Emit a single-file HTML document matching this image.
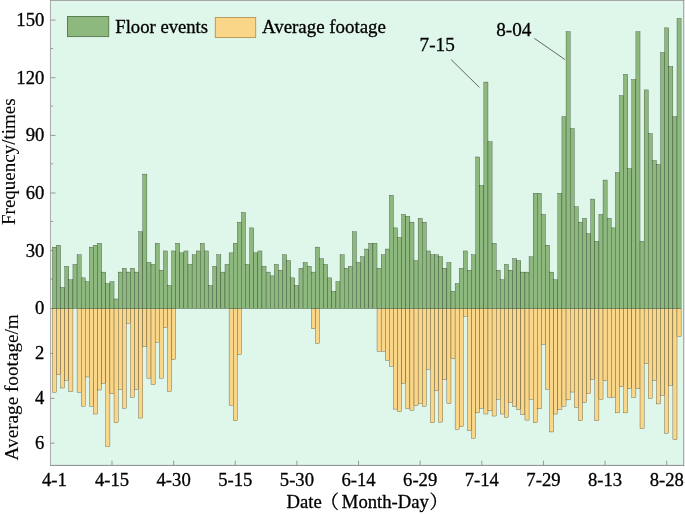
<!DOCTYPE html>
<html><head><meta charset="utf-8"><title>chart</title>
<style>html,body{margin:0;padding:0;background:#fff}</style></head>
<body>
<svg width="685" height="514" viewBox="0 0 685 514" style="display:block;font-family:'Liberation Serif','Noto Serif CJK SC',serif;font-size:18.67px"><style>text{stroke:#000;stroke-width:0.3px;fill:#000}</style>
<rect x="0" y="0" width="685" height="514" fill="#fff"/>
<rect x="50.5" y="0" width="633.5" height="465.4" fill="#dff6ea"/>
<g stroke="#8a8a8a" stroke-width="0.9" fill="none"><line x1="50.0" y1="0.5" x2="684.2" y2="0.5" stroke="#a6a6a6" stroke-width="1"/><line x1="50.45" y1="0" x2="50.45" y2="465.9" stroke="#959595" stroke-width="0.8"/><line x1="683.75" y1="0" x2="683.75" y2="465.9"/><line x1="50.0" y1="465.4" x2="684.2" y2="465.4" stroke-width="1"/></g>
<g stroke="#858a85" stroke-width="0.85">
<line x1="50.5" y1="308.60" x2="55.5" y2="308.60"/>
<line x1="50.5" y1="250.66" x2="55.5" y2="250.66"/>
<line x1="50.5" y1="193.01" x2="55.5" y2="193.01"/>
<line x1="50.5" y1="135.37" x2="55.5" y2="135.37"/>
<line x1="50.5" y1="77.72" x2="55.5" y2="77.72"/>
<line x1="50.5" y1="20.07" x2="55.5" y2="20.07"/>
<line x1="50.5" y1="279.08" x2="53.0" y2="279.08"/>
<line x1="50.5" y1="221.43" x2="53.0" y2="221.43"/>
<line x1="50.5" y1="163.79" x2="53.0" y2="163.79"/>
<line x1="50.5" y1="106.14" x2="53.0" y2="106.14"/>
<line x1="50.5" y1="48.50" x2="53.0" y2="48.50"/>
<line x1="50.5" y1="353.46" x2="54.5" y2="353.46"/>
<line x1="50.5" y1="398.32" x2="54.5" y2="398.32"/>
<line x1="50.5" y1="443.18" x2="54.5" y2="443.18"/>
<line x1="111.98" y1="465.4" x2="111.98" y2="460.7"/>
<line x1="173.62" y1="465.4" x2="173.62" y2="460.7"/>
<line x1="235.26" y1="465.4" x2="235.26" y2="460.7"/>
<line x1="296.90" y1="465.4" x2="296.90" y2="460.7"/>
<line x1="358.54" y1="465.4" x2="358.54" y2="460.7"/>
<line x1="420.17" y1="465.4" x2="420.17" y2="460.7"/>
<line x1="481.81" y1="465.4" x2="481.81" y2="460.7"/>
<line x1="543.45" y1="465.4" x2="543.45" y2="460.7"/>
<line x1="605.09" y1="465.4" x2="605.09" y2="460.7"/>
<line x1="666.73" y1="465.4" x2="666.73" y2="460.7"/>
</g>
<g fill="#fad688" stroke="#2a2418" stroke-width="0.3">
<rect x="52.40" y="308.6" width="4.109" height="83.66"/>
<rect x="56.51" y="308.6" width="4.109" height="66.17"/>
<rect x="60.62" y="308.6" width="4.109" height="79.40"/>
<rect x="64.73" y="308.6" width="4.109" height="71.55"/>
<rect x="68.84" y="308.6" width="4.109" height="82.77"/>
<rect x="77.06" y="308.6" width="4.109" height="83.66"/>
<rect x="81.16" y="308.6" width="4.109" height="97.57"/>
<rect x="85.27" y="308.6" width="4.109" height="68.41"/>
<rect x="89.38" y="308.6" width="4.109" height="97.57"/>
<rect x="93.49" y="308.6" width="4.109" height="105.42"/>
<rect x="97.60" y="308.6" width="4.109" height="81.42"/>
<rect x="101.71" y="308.6" width="4.109" height="74.69"/>
<rect x="105.82" y="308.6" width="4.109" height="137.94"/>
<rect x="109.93" y="308.6" width="4.109" height="85.23"/>
<rect x="114.04" y="308.6" width="4.109" height="114.17"/>
<rect x="118.15" y="308.6" width="4.109" height="80.75"/>
<rect x="122.26" y="308.6" width="4.109" height="99.59"/>
<rect x="126.37" y="308.6" width="4.109" height="14.58"/>
<rect x="130.47" y="308.6" width="4.109" height="88.60"/>
<rect x="134.58" y="308.6" width="4.109" height="80.75"/>
<rect x="138.69" y="308.6" width="4.109" height="109.46"/>
<rect x="142.80" y="308.6" width="4.109" height="38.13"/>
<rect x="146.91" y="308.6" width="4.109" height="69.53"/>
<rect x="151.02" y="308.6" width="4.109" height="76.04"/>
<rect x="155.13" y="308.6" width="4.109" height="33.64"/>
<rect x="159.24" y="308.6" width="4.109" height="69.53"/>
<rect x="163.35" y="308.6" width="4.109" height="18.84"/>
<rect x="167.46" y="308.6" width="4.109" height="82.77"/>
<rect x="171.57" y="308.6" width="4.109" height="50.92"/>
<rect x="229.10" y="308.6" width="4.109" height="96.67"/>
<rect x="233.20" y="308.6" width="4.109" height="112.15"/>
<rect x="237.31" y="308.6" width="4.109" height="45.98"/>
<rect x="311.28" y="308.6" width="4.109" height="20.19"/>
<rect x="315.39" y="308.6" width="4.109" height="34.77"/>
<rect x="377.03" y="308.6" width="4.109" height="42.62"/>
<rect x="381.14" y="308.6" width="4.109" height="42.62"/>
<rect x="385.25" y="308.6" width="4.109" height="51.59"/>
<rect x="389.35" y="308.6" width="4.109" height="57.65"/>
<rect x="393.46" y="308.6" width="4.109" height="100.49"/>
<rect x="397.57" y="308.6" width="4.109" height="103.18"/>
<rect x="401.68" y="308.6" width="4.109" height="74.69"/>
<rect x="405.79" y="308.6" width="4.109" height="99.59"/>
<rect x="409.90" y="308.6" width="4.109" height="101.61"/>
<rect x="414.01" y="308.6" width="4.109" height="96.90"/>
<rect x="418.12" y="308.6" width="4.109" height="94.88"/>
<rect x="422.23" y="308.6" width="4.109" height="97.57"/>
<rect x="426.34" y="308.6" width="4.109" height="60.56"/>
<rect x="430.45" y="308.6" width="4.109" height="114.17"/>
<rect x="434.56" y="308.6" width="4.109" height="82.09"/>
<rect x="438.66" y="308.6" width="4.109" height="113.50"/>
<rect x="442.77" y="308.6" width="4.109" height="70.88"/>
<rect x="446.88" y="308.6" width="4.109" height="94.88"/>
<rect x="450.99" y="308.6" width="4.109" height="50.02"/>
<rect x="455.10" y="308.6" width="4.109" height="120.67"/>
<rect x="459.21" y="308.6" width="4.109" height="118.21"/>
<rect x="463.32" y="308.6" width="4.109" height="7.85"/>
<rect x="467.43" y="308.6" width="4.109" height="122.02"/>
<rect x="471.54" y="308.6" width="4.109" height="129.65"/>
<rect x="475.65" y="308.6" width="4.109" height="104.30"/>
<rect x="479.76" y="308.6" width="4.109" height="99.59"/>
<rect x="483.87" y="308.6" width="4.109" height="105.42"/>
<rect x="487.98" y="308.6" width="4.109" height="102.28"/>
<rect x="492.08" y="308.6" width="4.109" height="107.44"/>
<rect x="496.19" y="308.6" width="4.109" height="90.62"/>
<rect x="500.30" y="308.6" width="4.109" height="105.42"/>
<rect x="504.41" y="308.6" width="4.109" height="108.79"/>
<rect x="508.52" y="308.6" width="4.109" height="93.98"/>
<rect x="512.63" y="308.6" width="4.109" height="98.24"/>
<rect x="516.74" y="308.6" width="4.109" height="100.94"/>
<rect x="520.85" y="308.6" width="4.109" height="106.09"/>
<rect x="524.96" y="308.6" width="4.109" height="111.48"/>
<rect x="529.07" y="308.6" width="4.109" height="90.62"/>
<rect x="533.18" y="308.6" width="4.109" height="114.17"/>
<rect x="537.29" y="308.6" width="4.109" height="100.26"/>
<rect x="541.39" y="308.6" width="4.109" height="35.89"/>
<rect x="545.50" y="308.6" width="4.109" height="80.75"/>
<rect x="549.61" y="308.6" width="4.109" height="123.36"/>
<rect x="553.72" y="308.6" width="4.109" height="105.42"/>
<rect x="557.83" y="308.6" width="4.109" height="100.94"/>
<rect x="561.94" y="308.6" width="4.109" height="97.57"/>
<rect x="566.05" y="308.6" width="4.109" height="91.29"/>
<rect x="570.16" y="308.6" width="4.109" height="83.44"/>
<rect x="574.27" y="308.6" width="4.109" height="98.92"/>
<rect x="578.38" y="308.6" width="4.109" height="112.15"/>
<rect x="582.49" y="308.6" width="4.109" height="93.98"/>
<rect x="586.60" y="308.6" width="4.109" height="85.23"/>
<rect x="590.71" y="308.6" width="4.109" height="70.88"/>
<rect x="594.81" y="308.6" width="4.109" height="112.15"/>
<rect x="598.92" y="308.6" width="4.109" height="90.62"/>
<rect x="603.03" y="308.6" width="4.109" height="71.78"/>
<rect x="607.14" y="308.6" width="4.109" height="88.60"/>
<rect x="611.25" y="308.6" width="4.109" height="88.60"/>
<rect x="615.36" y="308.6" width="4.109" height="104.30"/>
<rect x="619.47" y="308.6" width="4.109" height="78.06"/>
<rect x="623.58" y="308.6" width="4.109" height="104.30"/>
<rect x="627.69" y="308.6" width="4.109" height="80.08"/>
<rect x="631.80" y="308.6" width="4.109" height="88.60"/>
<rect x="635.91" y="308.6" width="4.109" height="80.08"/>
<rect x="640.02" y="308.6" width="4.109" height="120.00"/>
<rect x="644.12" y="308.6" width="4.109" height="54.95"/>
<rect x="648.23" y="308.6" width="4.109" height="89.72"/>
<rect x="652.34" y="308.6" width="4.109" height="71.78"/>
<rect x="656.45" y="308.6" width="4.109" height="95.33"/>
<rect x="660.56" y="308.6" width="4.109" height="86.58"/>
<rect x="664.67" y="308.6" width="4.109" height="124.71"/>
<rect x="668.78" y="308.6" width="4.109" height="76.71"/>
<rect x="672.89" y="308.6" width="4.109" height="130.99"/>
<rect x="677.00" y="308.6" width="4.109" height="27.81"/>
</g>
<g fill="#8db87e" stroke="#1c2a18" stroke-width="0.3">
<rect x="52.40" y="247.11" width="4.109" height="61.49"/>
<rect x="56.51" y="245.19" width="4.109" height="63.41"/>
<rect x="60.62" y="287.46" width="4.109" height="21.14"/>
<rect x="64.73" y="266.33" width="4.109" height="42.27"/>
<rect x="68.84" y="279.78" width="4.109" height="28.82"/>
<rect x="72.95" y="264.41" width="4.109" height="44.19"/>
<rect x="77.06" y="254.80" width="4.109" height="53.80"/>
<rect x="81.16" y="277.86" width="4.109" height="30.74"/>
<rect x="85.27" y="281.70" width="4.109" height="26.90"/>
<rect x="89.38" y="247.11" width="4.109" height="61.49"/>
<rect x="93.49" y="245.19" width="4.109" height="63.41"/>
<rect x="97.60" y="243.27" width="4.109" height="65.33"/>
<rect x="101.71" y="272.09" width="4.109" height="36.51"/>
<rect x="105.82" y="283.62" width="4.109" height="24.98"/>
<rect x="109.93" y="281.70" width="4.109" height="26.90"/>
<rect x="114.04" y="298.99" width="4.109" height="9.61"/>
<rect x="118.15" y="272.09" width="4.109" height="36.51"/>
<rect x="122.26" y="268.25" width="4.109" height="40.35"/>
<rect x="126.37" y="272.09" width="4.109" height="36.51"/>
<rect x="130.47" y="268.25" width="4.109" height="40.35"/>
<rect x="134.58" y="272.09" width="4.109" height="36.51"/>
<rect x="138.69" y="231.74" width="4.109" height="76.86"/>
<rect x="142.80" y="174.10" width="4.109" height="134.50"/>
<rect x="146.91" y="262.48" width="4.109" height="46.12"/>
<rect x="151.02" y="264.41" width="4.109" height="44.19"/>
<rect x="155.13" y="243.27" width="4.109" height="65.33"/>
<rect x="159.24" y="270.17" width="4.109" height="38.43"/>
<rect x="163.35" y="250.96" width="4.109" height="57.64"/>
<rect x="167.46" y="285.54" width="4.109" height="23.06"/>
<rect x="171.57" y="250.96" width="4.109" height="57.64"/>
<rect x="175.68" y="243.27" width="4.109" height="65.33"/>
<rect x="179.79" y="252.88" width="4.109" height="55.72"/>
<rect x="183.89" y="250.96" width="4.109" height="57.64"/>
<rect x="188.00" y="264.41" width="4.109" height="44.19"/>
<rect x="192.11" y="254.80" width="4.109" height="53.80"/>
<rect x="196.22" y="250.96" width="4.109" height="57.64"/>
<rect x="200.33" y="243.27" width="4.109" height="65.33"/>
<rect x="204.44" y="250.96" width="4.109" height="57.64"/>
<rect x="208.55" y="285.54" width="4.109" height="23.06"/>
<rect x="212.66" y="266.33" width="4.109" height="42.27"/>
<rect x="216.77" y="254.80" width="4.109" height="53.80"/>
<rect x="220.88" y="272.09" width="4.109" height="36.51"/>
<rect x="224.99" y="264.41" width="4.109" height="44.19"/>
<rect x="229.10" y="252.88" width="4.109" height="55.72"/>
<rect x="233.20" y="243.27" width="4.109" height="65.33"/>
<rect x="237.31" y="222.13" width="4.109" height="86.47"/>
<rect x="241.42" y="212.53" width="4.109" height="96.08"/>
<rect x="245.53" y="264.41" width="4.109" height="44.19"/>
<rect x="249.64" y="227.90" width="4.109" height="80.70"/>
<rect x="253.75" y="252.88" width="4.109" height="55.72"/>
<rect x="257.86" y="250.96" width="4.109" height="57.64"/>
<rect x="261.97" y="266.33" width="4.109" height="42.27"/>
<rect x="266.08" y="272.09" width="4.109" height="36.51"/>
<rect x="270.19" y="275.93" width="4.109" height="32.67"/>
<rect x="274.30" y="264.41" width="4.109" height="44.19"/>
<rect x="278.41" y="270.17" width="4.109" height="38.43"/>
<rect x="282.52" y="254.80" width="4.109" height="53.80"/>
<rect x="286.62" y="260.56" width="4.109" height="48.04"/>
<rect x="290.73" y="277.86" width="4.109" height="30.74"/>
<rect x="294.84" y="285.54" width="4.109" height="23.06"/>
<rect x="298.95" y="268.25" width="4.109" height="40.35"/>
<rect x="303.06" y="262.48" width="4.109" height="46.12"/>
<rect x="307.17" y="266.33" width="4.109" height="42.27"/>
<rect x="311.28" y="272.09" width="4.109" height="36.51"/>
<rect x="315.39" y="247.11" width="4.109" height="61.49"/>
<rect x="319.50" y="258.64" width="4.109" height="49.96"/>
<rect x="323.61" y="264.41" width="4.109" height="44.19"/>
<rect x="327.72" y="277.86" width="4.109" height="30.74"/>
<rect x="331.83" y="291.31" width="4.109" height="17.29"/>
<rect x="335.93" y="281.70" width="4.109" height="26.90"/>
<rect x="340.04" y="254.80" width="4.109" height="53.80"/>
<rect x="344.15" y="268.25" width="4.109" height="40.35"/>
<rect x="348.26" y="266.33" width="4.109" height="42.27"/>
<rect x="352.37" y="231.74" width="4.109" height="76.86"/>
<rect x="356.48" y="262.48" width="4.109" height="46.12"/>
<rect x="360.59" y="256.72" width="4.109" height="51.88"/>
<rect x="364.70" y="249.03" width="4.109" height="59.57"/>
<rect x="368.81" y="243.27" width="4.109" height="65.33"/>
<rect x="372.92" y="243.27" width="4.109" height="65.33"/>
<rect x="377.03" y="268.25" width="4.109" height="40.35"/>
<rect x="381.14" y="254.80" width="4.109" height="53.80"/>
<rect x="385.25" y="249.03" width="4.109" height="59.57"/>
<rect x="389.35" y="195.23" width="4.109" height="113.37"/>
<rect x="393.46" y="227.90" width="4.109" height="80.70"/>
<rect x="397.57" y="237.50" width="4.109" height="71.10"/>
<rect x="401.68" y="214.45" width="4.109" height="94.15"/>
<rect x="405.79" y="216.37" width="4.109" height="92.23"/>
<rect x="409.90" y="222.13" width="4.109" height="86.47"/>
<rect x="414.01" y="260.56" width="4.109" height="48.04"/>
<rect x="418.12" y="218.29" width="4.109" height="90.31"/>
<rect x="422.23" y="222.13" width="4.109" height="86.47"/>
<rect x="426.34" y="250.96" width="4.109" height="57.64"/>
<rect x="430.45" y="254.80" width="4.109" height="53.80"/>
<rect x="434.56" y="254.80" width="4.109" height="53.80"/>
<rect x="438.66" y="256.72" width="4.109" height="51.88"/>
<rect x="442.77" y="268.25" width="4.109" height="40.35"/>
<rect x="446.88" y="262.48" width="4.109" height="46.12"/>
<rect x="450.99" y="291.31" width="4.109" height="17.29"/>
<rect x="455.10" y="283.62" width="4.109" height="24.98"/>
<rect x="459.21" y="268.25" width="4.109" height="40.35"/>
<rect x="463.32" y="250.96" width="4.109" height="57.64"/>
<rect x="467.43" y="270.17" width="4.109" height="38.43"/>
<rect x="471.54" y="254.80" width="4.109" height="53.80"/>
<rect x="475.65" y="156.99" width="4.109" height="151.61"/>
<rect x="479.76" y="185.43" width="4.109" height="123.17"/>
<rect x="483.87" y="82.06" width="4.109" height="226.54"/>
<rect x="487.98" y="141.81" width="4.109" height="166.79"/>
<rect x="492.08" y="243.27" width="4.109" height="65.33"/>
<rect x="496.19" y="270.17" width="4.109" height="38.43"/>
<rect x="500.30" y="279.78" width="4.109" height="28.82"/>
<rect x="504.41" y="264.41" width="4.109" height="44.19"/>
<rect x="508.52" y="270.17" width="4.109" height="38.43"/>
<rect x="512.63" y="258.64" width="4.109" height="49.96"/>
<rect x="516.74" y="260.56" width="4.109" height="48.04"/>
<rect x="520.85" y="272.09" width="4.109" height="36.51"/>
<rect x="524.96" y="272.09" width="4.109" height="36.51"/>
<rect x="529.07" y="256.72" width="4.109" height="51.88"/>
<rect x="533.18" y="193.31" width="4.109" height="115.29"/>
<rect x="537.29" y="193.31" width="4.109" height="115.29"/>
<rect x="541.39" y="214.45" width="4.109" height="94.15"/>
<rect x="545.50" y="245.19" width="4.109" height="63.41"/>
<rect x="549.61" y="272.09" width="4.109" height="36.51"/>
<rect x="553.72" y="279.78" width="4.109" height="28.82"/>
<rect x="557.83" y="193.31" width="4.109" height="115.29"/>
<rect x="561.94" y="116.64" width="4.109" height="191.96"/>
<rect x="566.05" y="31.71" width="4.109" height="276.89"/>
<rect x="570.16" y="128.56" width="4.109" height="180.04"/>
<rect x="574.27" y="206.76" width="4.109" height="101.84"/>
<rect x="578.38" y="222.13" width="4.109" height="86.47"/>
<rect x="582.49" y="218.29" width="4.109" height="90.31"/>
<rect x="586.60" y="233.66" width="4.109" height="74.94"/>
<rect x="590.71" y="199.07" width="4.109" height="109.53"/>
<rect x="594.81" y="241.35" width="4.109" height="67.25"/>
<rect x="598.92" y="214.45" width="4.109" height="94.15"/>
<rect x="603.03" y="180.05" width="4.109" height="128.55"/>
<rect x="607.14" y="218.29" width="4.109" height="90.31"/>
<rect x="611.25" y="227.90" width="4.109" height="80.70"/>
<rect x="615.36" y="172.56" width="4.109" height="136.04"/>
<rect x="619.47" y="95.70" width="4.109" height="212.90"/>
<rect x="623.58" y="74.37" width="4.109" height="234.23"/>
<rect x="627.69" y="168.52" width="4.109" height="140.08"/>
<rect x="631.80" y="79.56" width="4.109" height="229.04"/>
<rect x="635.91" y="31.71" width="4.109" height="276.89"/>
<rect x="640.02" y="241.35" width="4.109" height="67.25"/>
<rect x="644.12" y="89.93" width="4.109" height="218.67"/>
<rect x="648.23" y="133.55" width="4.109" height="175.05"/>
<rect x="652.34" y="160.64" width="4.109" height="147.96"/>
<rect x="656.45" y="164.49" width="4.109" height="144.11"/>
<rect x="660.56" y="52.66" width="4.109" height="255.94"/>
<rect x="664.67" y="27.87" width="4.109" height="280.73"/>
<rect x="668.78" y="66.49" width="4.109" height="242.11"/>
<rect x="672.89" y="116.64" width="4.109" height="191.96"/>
<rect x="677.00" y="18.45" width="4.109" height="290.15"/>
</g>
<rect x="67.5" y="16.5" width="41.2" height="20.1" fill="#8db87e" stroke="#55774b" stroke-width="0.9"/>
<rect x="215.3" y="17.5" width="40.4" height="20" fill="#fad688" stroke="#b8934f" stroke-width="0.9"/>
<text x="115.3" y="32.6" fill="#000">Floor events</text>
<text x="262" y="32.6" font-size="18.9">Average footage</text>
<text x="44.3" y="314.20" text-anchor="end">0</text>
<text x="44.3" y="256.56" text-anchor="end">30</text>
<text x="44.3" y="198.91" text-anchor="end">60</text>
<text x="44.3" y="141.27" text-anchor="end">90</text>
<text x="44.3" y="83.62" text-anchor="end">120</text>
<text x="44.3" y="25.98" text-anchor="end">150</text>
<text x="44.3" y="359.06" text-anchor="end">2</text>
<text x="44.3" y="403.92" text-anchor="end">4</text>
<text x="44.3" y="448.78" text-anchor="end">6</text>
<text x="54.45" y="486.1" text-anchor="middle">4-1</text>
<text x="111.98" y="486.1" text-anchor="middle">4-15</text>
<text x="173.62" y="486.1" text-anchor="middle">4-30</text>
<text x="235.26" y="486.1" text-anchor="middle">5-15</text>
<text x="296.90" y="486.1" text-anchor="middle">5-30</text>
<text x="358.54" y="486.1" text-anchor="middle">6-14</text>
<text x="420.17" y="486.1" text-anchor="middle">6-29</text>
<text x="481.81" y="486.1" text-anchor="middle">7-14</text>
<text x="543.45" y="486.1" text-anchor="middle">7-29</text>
<text x="605.09" y="486.1" text-anchor="middle">8-13</text>
<text x="666.73" y="486.1" text-anchor="middle">8-28</text>
<text x="286.6" y="508.3">Date</text>
<text x="320.3" y="508.3">（</text>
<text x="341.8" y="508.3">Month-Day</text>
<text x="429.6" y="508.3">）</text>
<text transform="translate(15.2,161.7) rotate(-90)" text-anchor="middle" font-size="19" style="stroke-width:0.1px">Frequency/times</text>
<text transform="translate(17.8,387.3) rotate(-90)" text-anchor="middle" font-size="19.2" style="stroke-width:0.1px">Average footage/m</text>
<text x="419.6" y="50.6" font-size="19.2">7-15</text>
<text x="496.2" y="35.7" font-size="19.2">8-04</text>
<g stroke="#444" stroke-width="0.8">
<line x1="451.1" y1="59.6" x2="479.4" y2="87.4"/>
<line x1="534.3" y1="38.3" x2="565" y2="59.6"/>
</g>
</svg>
</body></html>
